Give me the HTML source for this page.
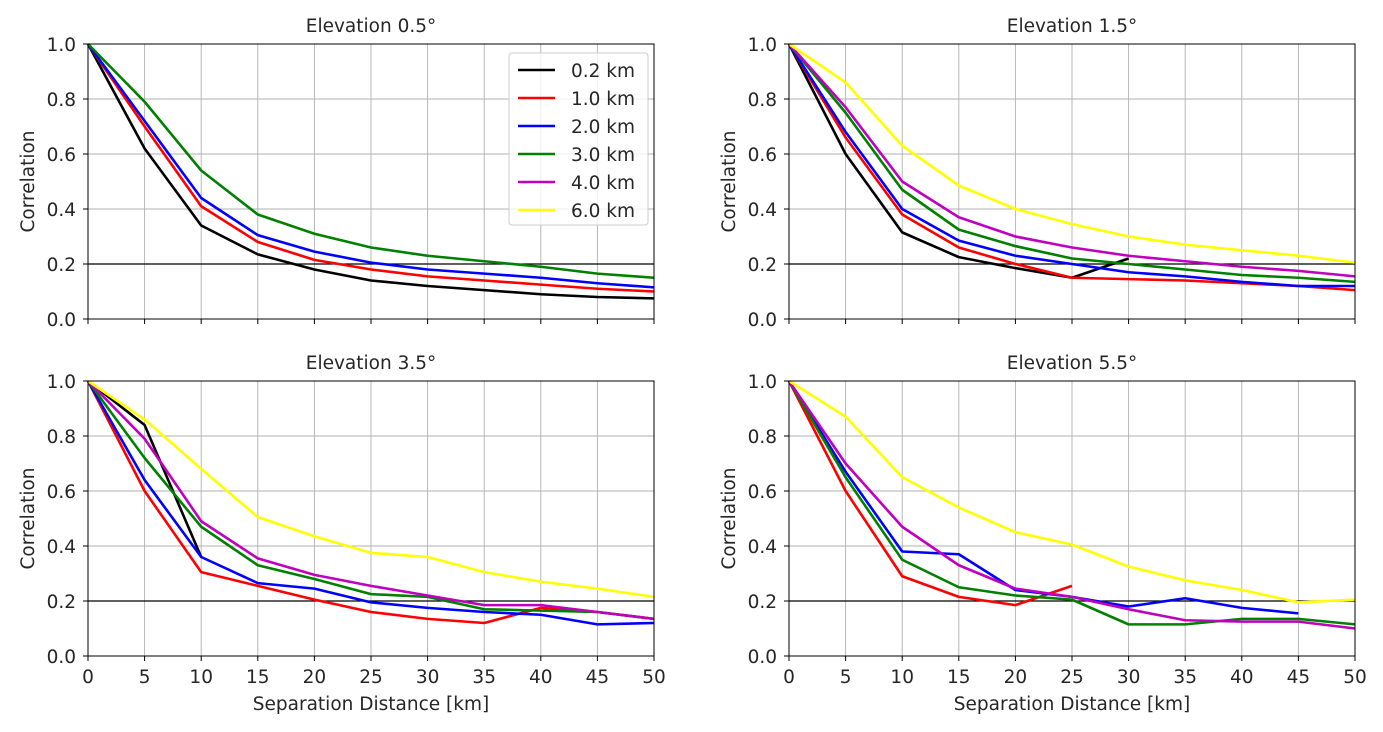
<!DOCTYPE html>
<html><head><meta charset="utf-8"><style>
body{margin:0;background:#fff;width:1383px;height:732px;overflow:hidden}
svg{display:block;font-family:"DejaVu Sans","Liberation Sans",sans-serif}
text{fill:#262626}
</style></head><body>
<svg id="fig" width="1383" height="732"></svg>
<script>
const xs=[0,5,10,15,20,25,30,35,40,45,50];
const yTicks=[0,0.2,0.4,0.6,0.8,1.0];
const yTickLabels=["0.0","0.2","0.4","0.6","0.8","1.0"];
const xTickLabels=["0","5","10","15","20","25","30","35","40","45","50"];
const seriesNames=["0.2 km","1.0 km","2.0 km","3.0 km","4.0 km","6.0 km"];
const colors=["#000000","#ff0000","#0000ff","#008000","#bf00bf","#ffff00"];
const elev05=[
 [1,.62,.34,.235,.18,.14,.12,.105,.09,.08,.075],
 [1,.70,.41,.28,.215,.18,.155,.14,.125,.11,.10],
 [1,.72,.44,.305,.245,.205,.18,.165,.15,.13,.115],
 [1,.79,.54,.38,.31,.26,.23,.21,.19,.165,.15],
 [],[]];
const elev15=[
 [1,.60,.315,.225,.185,.15,.22],
 [1,.66,.38,.26,.20,.15,.145,.14,.13,.12,.105],
 [1,.68,.40,.285,.23,.20,.17,.155,.135,.12,.12],
 [1,.75,.47,.325,.265,.22,.20,.18,.16,.15,.135],
 [1,.77,.50,.37,.30,.26,.23,.21,.19,.175,.155],
 [1,.86,.63,.485,.40,.345,.30,.27,.25,.23,.205]];
const elev35=[
 [1,.84,.36],
 [1,.60,.305,.255,.205,.16,.135,.12,.175,.16,.135],
 [1,.64,.36,.265,.245,.195,.175,.16,.15,.115,.12],
 [1,.72,.47,.33,.28,.225,.215,.17,.165,.16,.135],
 [1,.79,.49,.355,.295,.255,.22,.185,.185,.16,.135],
 [1,.86,.68,.505,.435,.375,.36,.305,.27,.245,.215]];
const elev55=[
 [],
 [1,.60,.29,.215,.185,.255],
 [1,.67,.38,.37,.24,.215,.18,.21,.175,.155],
 [1,.65,.35,.25,.22,.205,.115,.115,.135,.135,.115],
 [1,.70,.47,.33,.245,.215,.17,.13,.125,.125,.10],
 [1,.87,.65,.54,.45,.405,.325,.275,.24,.195,.205]];
const panels=[
 {title:"Elevation 0.5°",data:elev05,x0:88,y0:44,xl:false,legend:true,name:"elev-0-5"},
 {title:"Elevation 1.5°",data:elev15,x0:789,y0:44,xl:false,name:"elev-1-5"},
 {title:"Elevation 3.5°",data:elev35,x0:88,y0:381,xl:true,name:"elev-3-5"},
 {title:"Elevation 5.5°",data:elev55,x0:789,y0:381,xl:true,name:"elev-5-5"}];
const W=566,H=275,FS=18.5,NS="http://www.w3.org/2000/svg",svg=document.getElementById('fig');
function mk(t,a,p){const e=document.createElementNS(NS,t);for(const k in a)e.setAttribute(k,a[k]);(p||svg).appendChild(e);return e;}
panels.forEach(P=>{
 const g=mk('g',{});
 
 
 const sx=v=>P.x0+v/50*W, sy=v=>P.y0+H-v*H;
 xs.forEach((v,i)=>{const x=sx(v);mk('line',{x1:x,x2:x,y1:P.y0,y2:P.y0+H,stroke:'#b0b0b0','stroke-width':0.9},g);
  mk('line',{x1:x,x2:x,y1:P.y0+H,y2:P.y0+H+5,stroke:'#000'},g);
  if(P.xl){const t=mk('text',{x:x,y:P.y0+H+27,'font-size':FS,'text-anchor':'middle'},g);t.textContent=xTickLabels[i];
   }});
 yTicks.forEach((v,i)=>{const y=sy(v);mk('line',{x1:P.x0,x2:P.x0+W,y1:y,y2:y,stroke:'#b0b0b0','stroke-width':0.9},g);
  mk('line',{x1:P.x0-5,x2:P.x0,y1:y,y2:y,stroke:'#000'},g);
  const t=mk('text',{x:P.x0-12,y:y+7,'font-size':FS,'text-anchor':'end'},g);t.textContent=yTickLabels[i];
  });
 const ref=mk('line',{x1:P.x0,x2:P.x0+W,y1:sy(0.2),y2:sy(0.2),stroke:'#000','stroke-width':1.3},g);
 
 P.data.forEach((s,k)=>{if(!s.length)return;
  const pl=mk('polyline',{points:s.map((v,i)=>sx(xs[i])+','+sy(v)).join(' '),fill:'none',stroke:colors[k],'stroke-width':2.6,'stroke-linejoin':'round'},g);
  });
 mk('rect',{x:P.x0,y:P.y0,width:W,height:H,fill:'none',stroke:'#000','stroke-width':1},g);
 const tt=mk('text',{x:P.x0+W/2,y:P.y0-12,'font-size':FS,'text-anchor':'middle'},g);tt.textContent=P.title;
 
 const yl=mk('text',{x:0,y:0,'font-size':FS,'text-anchor':'middle',transform:`translate(${P.x0-54},${P.y0+H/2}) rotate(-90)`},g);yl.textContent="Correlation";
 
 if(P.xl){const xl=mk('text',{x:P.x0+W/2,y:P.y0+H+54,'font-size':FS,'text-anchor':'middle'},g);xl.textContent="Separation Distance [km]";
  }
 if(P.legend){const lg=mk('g',{},g);
  
  mk('rect',{x:509,y:53,width:139,height:172,rx:3,fill:'#fff','fill-opacity':0.8,stroke:'#ccc'},lg);
  seriesNames.forEach((n,k)=>{const y=70+k*28;
   mk('line',{x1:518,x2:555,y1:y,y2:y,stroke:colors[k],'stroke-width':2.6},lg);
   const t=mk('text',{x:571,y:y+7,'font-size':FS},lg);t.textContent=n;
   });}
});
</script>
</body></html>
